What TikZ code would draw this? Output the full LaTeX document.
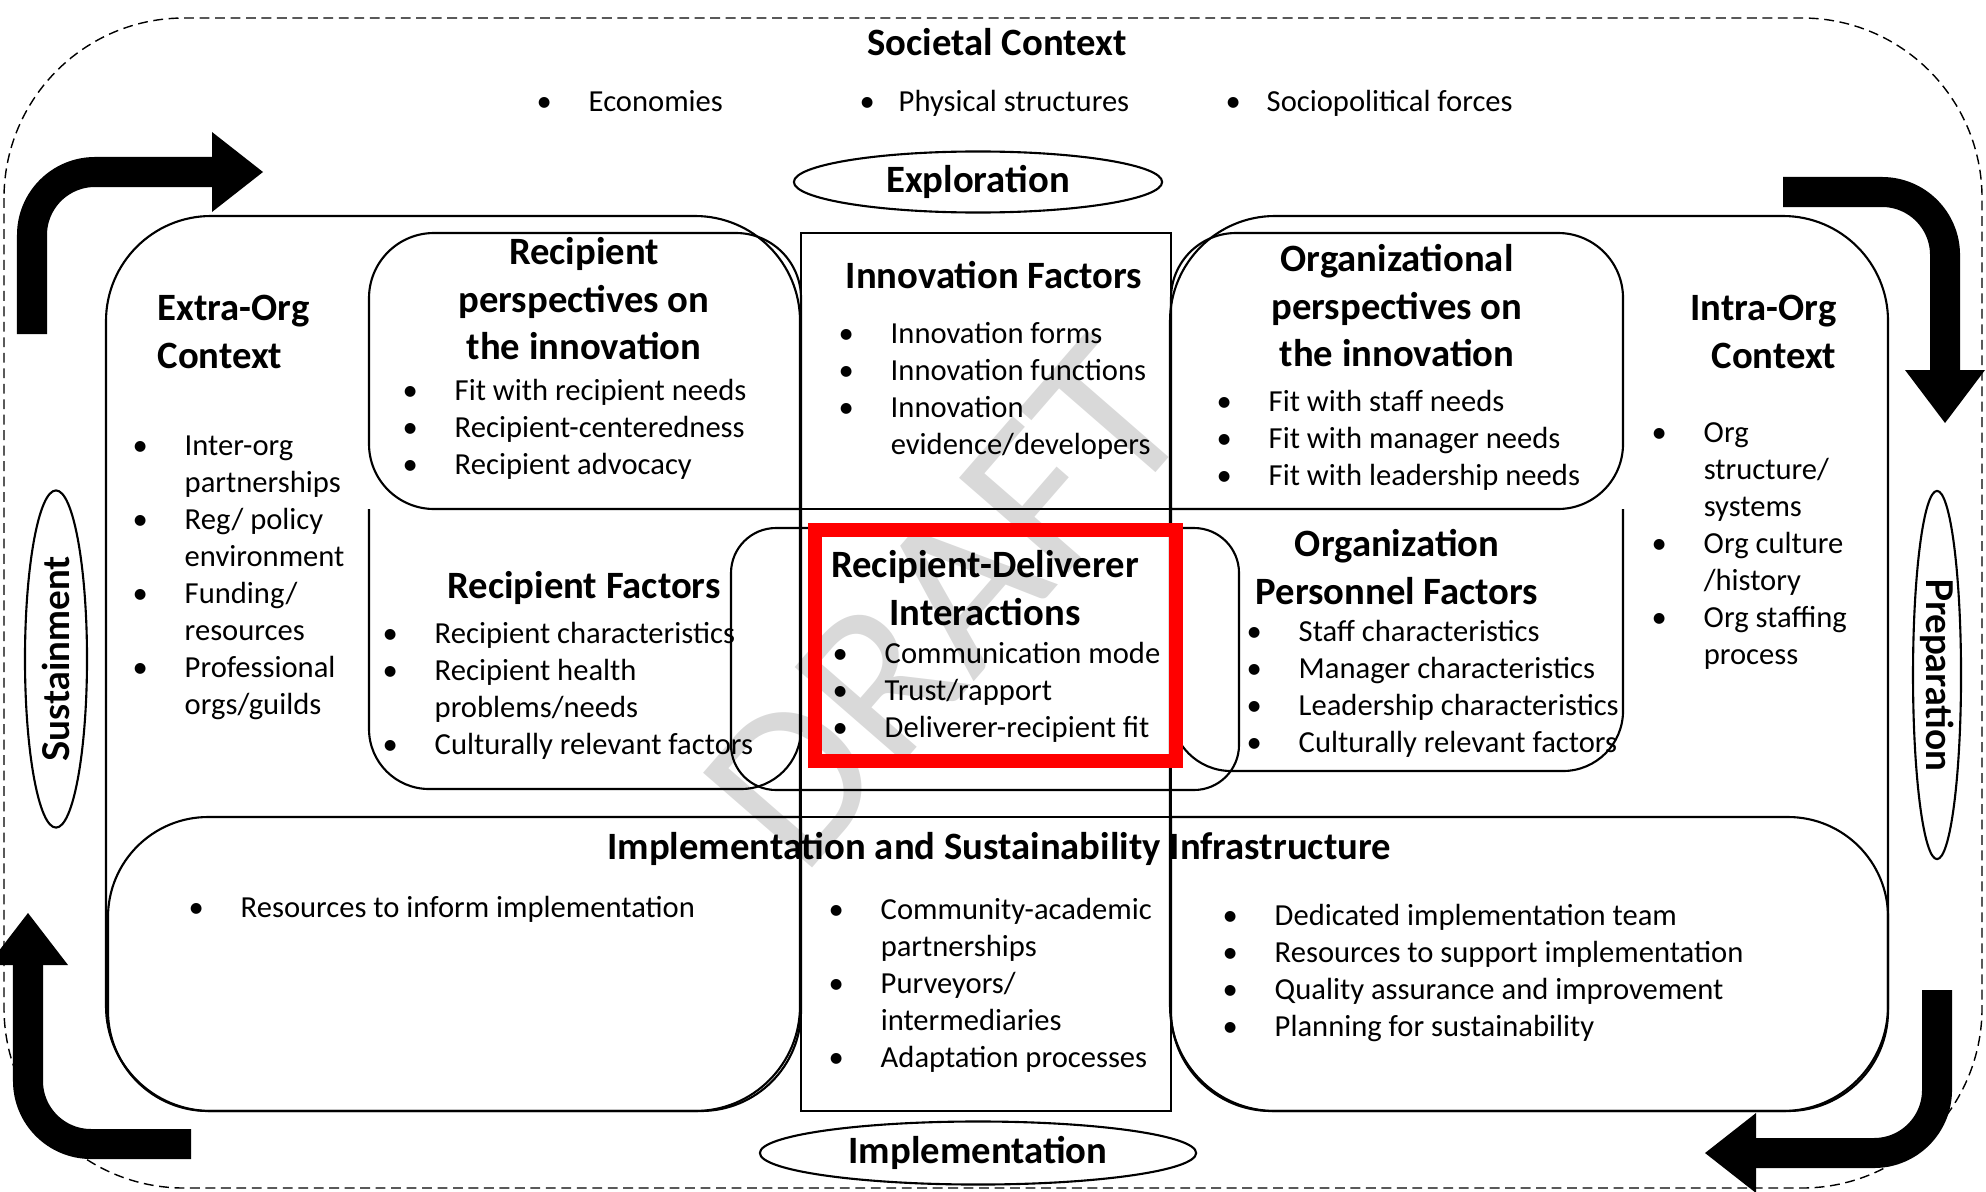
\documentclass[tikz,border=0pt]{standalone}
\usepackage{fontspec}
\setmainfont{Carlito}
\newfontfamily\phasefont{Lato}
\usetikzlibrary{shapes.geometric}

\newcommand\bul[1][5.2mm]{\makebox[#1][l]{\textbullet}}
\newcommand\ind{\hspace*{5.2mm}}

\begin{document}
\begin{tikzpicture}[x=0.01cm, y=-0.01cm,
  every node/.style={inner sep=0pt},
  heading/.style={font=\fontsize{11}{13.5}\selectfont\bfseries, align=center},
  bullets/.style={font=\fontsize{8.7}{10.5}\selectfont, align=left, anchor=north west},
  boxline/.style={draw, line width=0.6pt},
  phase/.style={ellipse, draw, line width=0.6pt, font=\fontsize{11}{13.5}\selectfont\bfseries},
  vphase/.style={ellipse, draw, line width=0.6pt, font=\phasefont\fontsize{10.5}{12}\selectfont\bfseries},
  stem/.style={line width=3mm, rounded corners=6.3mm},
  arrowhead/.style={fill=black},
]
\useasboundingbox (0,0) rectangle (1986,1191);

% watermark
\node[rotate=49, text=black!15, font=\fontsize{64}{64}\selectfont] (draft) at (946,604) {DRAFT};

% societal context
\draw[line width=0.4pt, dash pattern=on 2.8pt off 1.6pt, rounded corners=18mm] (4,18) rectangle (1982,1188);
\node[heading, anchor=base] (societal) at (997,56) {Societal Context};
\node[bullets, anchor=base west] (econ) at (536,112) {\bul Economies};
\node[bullets, anchor=base west] (phys) at (859,112) {\bul[3.9mm]Physical structures};
\node[bullets, anchor=base west] (sociopol) at (1225,112) {\bul[4.1mm]Sociopolitical forces};

% extra-org and intra-org context
\draw[boxline, rounded corners=10.5mm] (106,216) rectangle (800,1111);
\draw[boxline, rounded corners=10.5mm] (1170,216) rectangle (1888,1111);

% innovation column
\draw[boxline] (801,233) rectangle (1171,1111);
\draw[boxline] (801,509) -- (1171,509);
\draw[boxline] (801,817) -- (1171,817);

% recipient side
\draw[boxline, rounded corners=6.5mm] (801,509) -- (369,509) -- (369,233) -- (801,233) -- (801,509);
\draw[boxline, rounded corners=6mm] (369,509) -- (369,789) -- (801,789) -- (801,509);

% organization side
\draw[boxline, rounded corners=6.5mm] (1171,509) -- (1171,233) -- (1623,233) -- (1623,509) -- (1171,509);
\draw[boxline, rounded corners=6mm] (1171,509) -- (1171,771) -- (1623,771) -- (1623,509);

% interactions
\draw[boxline, rounded corners=4.5mm] (731,528) rectangle (1239,790);
\draw[red, line width=4pt] (815,530) rectangle (1176,761);

% implementation band
\draw[boxline, rounded corners=10mm] (801,817) -- (108,817) -- (108,1111) -- (801,1111) -- (801,817);
\draw[boxline, rounded corners=10mm] (1171,817) -- (1888,817) -- (1888,1111) -- (1171,1111) -- (1171,817);

% phases
\node[phase, minimum width=36.8mm, minimum height=6.1mm] (explore) at (978,182) {Exploration};
\node[phase, minimum width=43.6mm, minimum height=6.3mm] (implement) at (978,1153) {Implementation};
\node[vphase, rotate=90, minimum width=33.7mm, minimum height=6.2mm] (sustain) at (56,659) {Sustainment};
\node[vphase, rotate=-90, minimum width=36.8mm, minimum height=4.8mm] (prepare) at (1937,675) {Preparation};

% cycle arrows
\draw[stem] (32,334) -- (32,172) -- (213,172);
\fill[arrowhead] (212,132) -- (263,172) -- (212,212) -- cycle;
\draw[stem] (1783,192) -- (1945,192) -- (1945,371);
\fill[arrowhead] (1905,370) -- (1945,423) -- (1985,370) -- cycle;
\draw[stem] (1937,990) -- (1937,1153) -- (1755,1153);
\fill[arrowhead] (1756,1113) -- (1705,1153) -- (1756,1193) -- cycle;
\draw[stem] (191,1144) -- (28,1144) -- (28,964);
\fill[arrowhead] (-12,965) -- (28,913) -- (68,965) -- cycle;

% texts
\node[heading, anchor=north west, align=left] (extrahead) at (157,287) {\strut Extra-Org\\Context};
\node[bullets] (extralist) at (132,429) {\strut\bul Inter-org\\\ind partnerships\\\bul Reg/ policy\\\ind environment\\\bul Funding/\\\ind resources\\\bul Professional\\\ind orgs/guilds};

\node[heading, anchor=north] (rphead) at (584,231) {\strut Recipient\\perspectives on\\the innovation};
\node[bullets] (rplist) at (402,374) {\strut\bul Fit with recipient needs\\\bul Recipient-centeredness\\\bul Recipient advocacy};

\node[heading, anchor=base] (innohead) at (994,288) {Innovation Factors};
\node[bullets] (innolist) at (838,317) {\strut\bul Innovation forms\\\bul Innovation functions\\\bul Innovation\\\ind evidence/developers};

\node[heading, anchor=north] (ophead) at (1397,238) {\strut Organizational\\perspectives on\\the innovation};
\node[bullets] (oplist) at (1216,385) {\strut\bul Fit with staff needs\\\bul Fit with manager needs\\\bul Fit with leadership needs};

\node[heading, anchor=north east, align=right] (intrahead) at (1837,287) {\strut Intra-Org\\Context};
\node[bullets] (intralist) at (1651,416) {\strut\bul Org\\\ind structure/\\\ind systems\\\bul Org culture\\\ind /history\\\bul Org staffing\\\ind process};

\node[heading, anchor=base] (rfhead) at (584,598) {Recipient Factors};
\node[bullets] (rflist) at (382,617) {\strut\bul Recipient characteristics\\\bul Recipient health\\\ind problems/needs\\\bul Culturally relevant factors};

\node[heading, anchor=north] (rdhead) at (985,544) {\strut Recipient-Deliverer\\Interactions};
\node[bullets] (rdlist) at (832,637) {\strut\bul Communication mode\\\bul Trust/rapport\\\bul Deliverer-recipient fit};

\node[heading, anchor=north] (pfhead) at (1397,523) {\strut Organization\\Personnel Factors};
\node[bullets] (pflist) at (1246,615) {\strut\bul Staff characteristics\\\bul Manager characteristics\\\bul Leadership characteristics\\\bul Culturally relevant factors};

\node[heading, anchor=base] (infrahead) at (999,859) {Implementation and Sustainability Infrastructure};
\node[bullets, anchor=base west] (infraleft) at (188,917) {\bul Resources to inform implementation};
\node[bullets] (infracenter) at (828,893) {\strut\bul Community-academic\\\ind partnerships\\\bul Purveyors/\\\ind intermediaries\\\bul Adaptation processes};
\node[bullets] (infraright) at (1222,899) {\strut\bul Dedicated implementation team\\\bul Resources to support implementation\\\bul Quality assurance and improvement\\\bul Planning for sustainability};
\end{tikzpicture}
\end{document}
